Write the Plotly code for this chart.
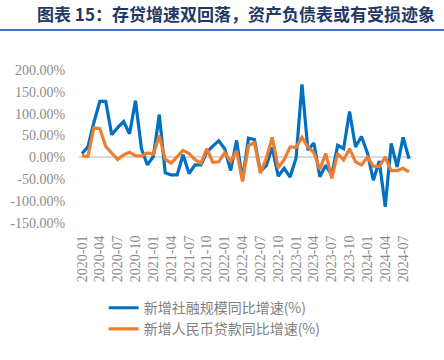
import plotly.graph_objects as go

months = [
    "2020-01", "2020-02", "2020-03", "2020-04", "2020-05", "2020-06", "2020-07", "2020-08", "2020-09", "2020-10", "2020-11", "2020-12",
    "2021-01", "2021-02", "2021-03", "2021-04", "2021-05", "2021-06", "2021-07", "2021-08", "2021-09", "2021-10", "2021-11", "2021-12",
    "2022-01", "2022-02", "2022-03", "2022-04", "2022-05", "2022-06", "2022-07", "2022-08", "2022-09", "2022-10", "2022-11", "2022-12",
    "2023-01", "2023-02", "2023-03", "2023-04", "2023-05", "2023-06", "2023-07", "2023-08", "2023-09", "2023-10", "2023-11", "2023-12",
    "2024-01", "2024-02", "2024-03", "2024-04", "2024-05", "2024-06", "2024-07", "2024-08",
]

# 新增社融规模同比增速(%)
tsf_growth = [
    9, 24, 80, 128, 128, 52, 68, 82, 54, 130, 20, -17,
    2, 98, -35, -40, -40, 6, -37, -17, -17, 12, 26, 38,
    20, -30, 39, -51, 44, 41, -32, -19, 23, -43, -25, -45,
    -2, 167, 17, 33, -44, -18, -40, 28, 20, 105, 24, 48,
    10, -52, -8, -113, 32, -22, 46, -3,
]

# 新增人民币贷款同比增速(%)
loan_growth = [
    4, 2, 68, 66, 25, 10, -5, 6, 12, 4, 3, 10,
    7, 50, -4, -13, 1, 16, 9, -5, -13, 20, -11, -10,
    11, -9, 15, -55, 27, 34, -36, -2, 46, -24, -5, 24,
    23, 46, 24, 11, -27, 9, -48, 9, -6, 20, -10, -17,
    1, -20, -21, 1, -30, -30, -25, -33,
]

x_tick_labels = [
    "2020-01", "2020-04", "2020-07", "2020-10", "2021-01", "2021-04", "2021-07", "2021-10",
    "2022-01", "2022-04", "2022-07", "2022-10", "2023-01", "2023-04", "2023-07", "2023-10",
    "2024-01", "2024-04", "2024-07",
]

y_tick_values = [-150, -100, -50, 0, 50, 100, 150, 200]
y_tick_labels = ["-150.00%", "-100.00%", "-50.00%", "0.00%", "50.00%", "100.00%", "150.00%", "200.00%"]

series_names = ["新增社融规模同比增速(%)", "新增人民币贷款同比增速(%)"]
title_text = "图表 15：存贷增速双回落，资产负债表或有受损迹象"

fig = go.Figure()
fig.add_trace(go.Scatter(
    x=months, y=tsf_growth, mode="lines", name=series_names[0],
    line=dict(color="#0070C0", width=3.2), legendgroup="a",
))
fig.add_trace(go.Scatter(
    x=months, y=loan_growth, mode="lines", name=series_names[1],
    line=dict(color="#ED7D31", width=3.2), legendgroup="b",
))

tick_font = dict(family="Liberation Serif", size=14, color="#8C8C8C")

fig.update_layout(
    width=444, height=360,
    paper_bgcolor="white", plot_bgcolor="white",
    margin=dict(l=79, r=32, t=70, b=137, autoexpand=False),
    showlegend=True,
    legend=dict(
        orientation="v", x=0.074, y=-0.452, xanchor="left", yanchor="top",
        font=dict(family="Noto Sans CJK SC", size=14, color="#7F7F7F"),
        traceorder="grouped", tracegroupgap=0, bgcolor="rgba(0,0,0,0)",
    ),
    xaxis=dict(
        type="category", categoryorder="array", categoryarray=months,
        range=[-0.5, len(months) - 0.5],
        tickmode="array", tickvals=x_tick_labels, ticktext=x_tick_labels,
        tickangle=-90, tickfont=tick_font,
        ticks="outside", ticklen=6, tickcolor="rgba(0,0,0,0)",
        showgrid=False, showline=False, zeroline=False, automargin=False,
    ),
    yaxis=dict(
        range=[-150, 200], tickmode="array", tickvals=y_tick_values, ticktext=y_tick_labels,
        tickfont=tick_font, ticks="outside", ticklen=10, tickcolor="rgba(0,0,0,0)",
        showgrid=False, showline=False,
        zeroline=True, zerolinecolor="#D9D9D9", zerolinewidth=1.5, automargin=False,
    ),
    shapes=[dict(
        type="line", xref="paper", yref="paper",
        x0=-0.3, x1=1.2, y0=1.262, y1=1.262,
        line=dict(color="#4472C4", width=2),
    )],
    annotations=[dict(
        text="<b>" + title_text + "</b>", xref="paper", yref="paper",
        x=-0.132, y=1.37, xanchor="left", yanchor="middle", showarrow=False,
        font=dict(family="Noto Sans CJK SC", size=17, color="#1F3864"),
    )],
)

fig.write_html(
    "out.html",
    config={"displayModeBar": False},
    post_script="document.body.style.margin='0';document.body.style.padding='0';",
)
